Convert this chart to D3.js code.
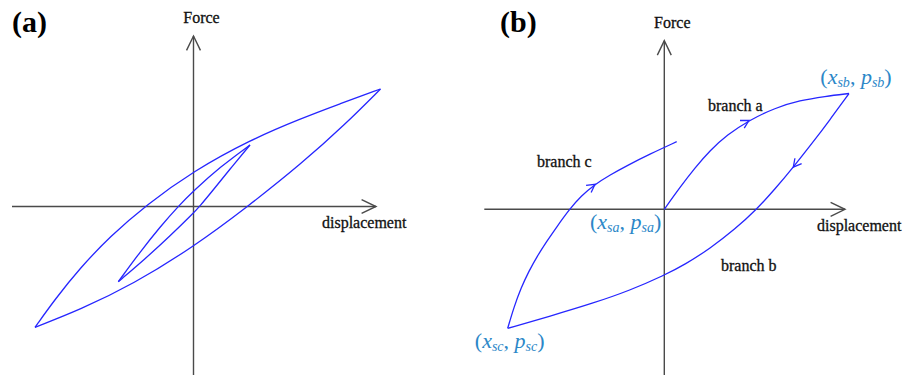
<!DOCTYPE html>
<html>
<head>
<meta charset="utf-8">
<script src="https://cdn.jsdelivr.net/npm/d3@7"></script>
<style>
  html, body { margin: 0; padding: 0; background: #fff; }
  svg { display: block; }
</style>
</head>
<body>
<svg id="chart" width="913" height="375"></svg>
<script>
// ---------- Panel (a): two hysteresis loops, [displacement, force] ----------
const outerUpper = [
  [-15.85, -12.08], [-13.85, -9.28], [-11.35, -6.16], [-8.35, -3.0], [-4.75, 0.13],
  [0, 3.55], [5.65, 6.65], [10.65, 8.76], [14.65, 10.27], [18.7, 11.75]
];
const outerLower = [
  [18.7, 11.75], [15.15, 8.2], [10.85, 4.33], [5.35, -0.07], [0, -4.03],
  [-6.05, -7.78], [-11.35, -10.32], [-15.85, -12.08]
];
const innerUpper = [
  [-7.52, -7.52], [-5.35, -4.55], [-3.35, -2.05], [-1.55, 0], [0, 1.55],
  [2.65, 3.95], [5.65, 6.15]
];
const innerLower = [
  [5.65, 6.15], [3.65, 3.75], [1.85, 1.5], [0.6, 0], [0, -0.65],
  [-2.35, -2.95], [-4.85, -5.25], [-7.52, -7.52]
];

// ---------- Panel (b): loading branches a, b, c ----------
const branchA = [
  [0, 0], [1.57, 2.2], [3.07, 4.15], [4.57, 5.88], [6.27, 7.44], [8.47, 8.89],
  [11.07, 10.14], [13.57, 10.89], [16.07, 11.29], [18.47, 11.58]
];
const branchB = [
  [18.47, 11.58], [16.57, 8.96], [14.77, 6.58], [12.9, 4.22], [11.07, 2.02],
  [9.24, 0], [7.07, -1.99], [4.57, -3.92], [2.07, -5.52], [0, -6.6],
  [-3.43, -8.11], [-7.1, -9.39], [-11.43, -10.69], [-15.66, -11.9]
];
const branchC = [
  [-15.66, -11.9], [-15.03, -9.77], [-14.33, -7.87], [-13.53, -6.17], [-12.73, -4.72],
  [-11.73, -3.17], [-10.73, -1.72], [-9.48, 0], [-8.33, 1.33], [-6.93, 2.5],
  [-5.43, 3.43], [-3.76, 4.36], [-1.43, 5.53], [1.24, 6.76]
];
// index of the point on each branch where its direction arrow sits
const arrowIndexA = 5, arrowIndexB = 3, arrowIndexC = 9;

// axis extents (displacement, force) for each panel
const axisA = { x: [-18.15, 18.25], y: [-16.85, 17.05] };
const axisB = { x: [-18.0, 18.07], y: [-16.57, 16.86] };

const panelTitles = ["(a)", "(b)"];
const axisNames = { x: "displacement", y: "Force" };
const branchNames = ["branch a", "branch b", "branch c"];
const pointNames = ["sa", "sb", "sc"];

// ---------- drawing ----------
const serif = "'Liberation Serif', 'Times New Roman', Times, serif";
const curveColor = "#2626ff";
const axisColor = "#4a4a4a";
const pointColor = "#2b87c8";

const svg = d3.select("#chart");

function chevron(g, x, y, angle, len, spread, color, width) {
  // open arrowhead with tip at (x, y) pointing along angle
  const a1 = angle + Math.PI - spread, a2 = angle + Math.PI + spread;
  g.append("path")
    .attr("d", `M${x + len * Math.cos(a1)},${y + len * Math.sin(a1)}L${x},${y}L${x + len * Math.cos(a2)},${y + len * Math.sin(a2)}`)
    .attr("fill", "none").attr("stroke", color).attr("stroke-width", width)
    .attr("stroke-linejoin", "miter");
}

function drawAxes(g, x, y, ext) {
  const x0 = x(0), y0 = y(0);
  g.append("line").attr("x1", x(ext.x[0])).attr("x2", x(ext.x[1]))
    .attr("y1", y0).attr("y2", y0)
    .attr("stroke", axisColor).attr("stroke-width", 1.4);
  g.append("line").attr("x1", x0).attr("x2", x0)
    .attr("y1", y(ext.y[0])).attr("y2", y(ext.y[1]))
    .attr("stroke", axisColor).attr("stroke-width", 1.4);
  chevron(g, x(ext.x[1]), y0, 0, 16, 0.45, axisColor, 1.4);
  chevron(g, x0, y(ext.y[1]), -Math.PI / 2, 16, 0.45, axisColor, 1.4);
}

const line = (x, y) => d3.line().x(d => x(d[0])).y(d => y(d[1]))
  .curve(d3.curveBasis);

function drawCurve(g, x, y, pts) {
  g.append("path").attr("d", line(x, y)(pts))
    .attr("fill", "none").attr("stroke", curveColor).attr("stroke-width", 1.3)
    .attr("stroke-linejoin", "miter");
}

function drawFlowArrow(g, x, y, pts, i) {
  const p = pts[i], a = pts[i - 1], b = pts[i + 1];
  const ang = Math.atan2(y(b[1]) - y(a[1]), x(b[0]) - x(a[0]));
  chevron(g, x(p[0]), y(p[1]), ang, 9, 0.5, curveColor, 1.3);
}

function text(g, str, px, py, opts = {}) {
  return g.append("text").attr("x", px).attr("y", py)
    .attr("font-family", serif)
    .attr("font-size", opts.size || 16)
    .attr("font-weight", opts.weight || "normal")
    .attr("fill", opts.color || "#111")
    .attr("stroke", opts.weight ? "none" : "#111")
    .attr("stroke-width", 0.3)
    .attr("text-anchor", opts.anchor || "start")
    .text(str);
}

// point label of the form (x_s?, p_s?)
function pointLabel(g, sub, px, py, anchor) {
  const t = g.append("text").attr("x", px).attr("y", py)
    .attr("font-family", serif).attr("font-size", 22)
    .attr("fill", pointColor).attr("text-anchor", anchor);
  t.append("tspan").text("(");
  t.append("tspan").attr("font-style", "italic").text("x");
  t.append("tspan").attr("font-style", "italic").attr("font-size", 14).attr("dy", 3).text(sub);
  t.append("tspan").attr("dy", -3).text(", ");
  t.append("tspan").attr("font-style", "italic").text("p");
  t.append("tspan").attr("font-style", "italic").attr("font-size", 14).attr("dy", 3).text(sub);
  t.append("tspan").attr("dy", -3).text(")");
}

// ----- panel (a) -----
{
  const x = d3.scaleLinear().domain(axisA.x).range([12, 376]);
  const y = d3.scaleLinear().domain(axisA.y).range([375, 36]);
  const g = svg.append("g");
  drawAxes(g, x, y, axisA);
  [outerUpper, outerLower, innerUpper, innerLower].forEach(p => drawCurve(g, x, y, p));
  text(g, panelTitles[0], 12, 32, { size: 30, weight: "bold", color: "#000" });
  text(g, axisNames.y, x(0) + 8, 22.5, { anchor: "middle" });
  text(g, axisNames.x, 322, 228);
}

// ----- panel (b) -----
{
  const x = d3.scaleLinear().domain(axisB.x).range([484.3, 845]);
  const y = d3.scaleLinear().domain(axisB.y).range([375, 40.7]);
  const g = svg.append("g");
  drawAxes(g, x, y, axisB);
  [branchA, branchB, branchC].forEach(p => drawCurve(g, x, y, p));
  drawFlowArrow(g, x, y, branchA, arrowIndexA);
  drawFlowArrow(g, x, y, branchB, arrowIndexB);
  drawFlowArrow(g, x, y, branchC, arrowIndexC);
  text(g, panelTitles[1], 500, 32, { size: 30, weight: "bold", color: "#000" });
  text(g, axisNames.y, x(0) + 8, 28.3, { anchor: "middle" });
  text(g, axisNames.x, 817, 230.5);
  text(g, branchNames[0], 708, 110.7);
  text(g, branchNames[1], 721, 270.7);
  text(g, branchNames[2], 537, 166.7);

  const sa = branchA[0], sb = branchA[branchA.length - 1], sc = branchB[branchB.length - 1];
  pointLabel(g, pointNames[0], x(sa[0]) - 3, y(sa[1]) + 20, "end");
  pointLabel(g, pointNames[1], x(sb[0]) + 7, y(sb[1]) - 10, "middle");
  pointLabel(g, pointNames[2], x(sc[0]) + 2, y(sc[1]) + 20, "middle");
}
</script>
</body>
</html>
